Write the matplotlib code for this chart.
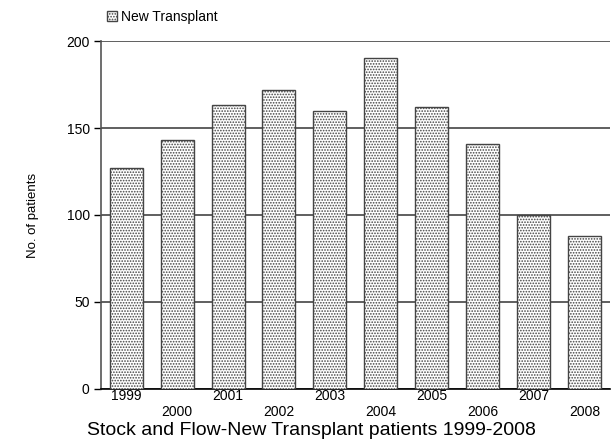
import matplotlib.pyplot as plt
from matplotlib.patches import Patch

plt.rcParams['font.family'] = ['Liberation Sans', 'DejaVu Sans']
plt.rcParams['hatch.linewidth'] = 0.8

years = ['1999', '2000', '2001', '2002', '2003', '2004', '2005', '2006', '2007', '2008']
patients = [127, 143, 163, 172, 160, 190, 162, 141, 100, 88]

fig = plt.figure(figsize=(6.11, 4.41), dpi=100)
ax = fig.add_axes([0.165, 0.118, 0.833, 0.789])

x = list(range(len(years)))
ax.bar(x, patients, width=0.65, color='white', edgecolor='#444444',
       linewidth=1.0, hatch='......', zorder=3)

ax.set_xlim(-0.5, 9.5)
ax.set_ylim(0, 200)
ax.set_yticks([0, 50, 100, 150, 200])
ax.yaxis.grid(True, color='#444444', linewidth=1.2, zorder=0)
for s in ['top', 'right']:
    ax.spines[s].set_visible(False)
ax.spines['left'].set_color('#555555')
ax.spines['left'].set_linewidth(1.2)
ax.spines['bottom'].set_color('black')
ax.spines['bottom'].set_linewidth(1.2)
ax.tick_params(axis='y', length=5, width=1, labelsize=10, pad=3)
ax.tick_params(axis='x', length=0, labelsize=10, pad=0)

ax.set_xticks(x)
labels = [y if i % 2 == 0 else '\n' + y for i, y in enumerate(years)]
ax.set_xticklabels(labels, linespacing=1.2)

ax.set_ylabel('No. of patients', fontsize=9.5, labelpad=20)

fig.text(0.51, 0.0136, 'Stock and Flow-New Transplant patients 1999-2008',
         ha='center', va='baseline', fontsize=14)

leg = fig.legend(handles=[Patch(facecolor='white', edgecolor='#444444',
                                hatch='......', label='New Transplant')],
                 loc='center left', bbox_to_anchor=(0.155, 0.962),
                 frameon=False, fontsize=10, handlelength=0.7,
                 handleheight=0.8, handletextpad=0.3)

fig.savefig('out.png', dpi=100)
